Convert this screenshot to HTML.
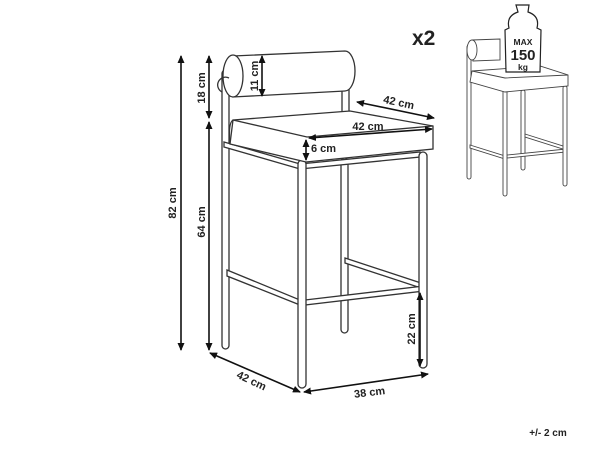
<!DOCTYPE html>
<html><head><style>
html,body{margin:0;padding:0;background:#fff;}
svg{display:block;}
text{font-family:"Liberation Sans",sans-serif;font-weight:bold;fill:#222;}
</style></head><body>
<svg width="600" height="450" viewBox="0 0 600 450" xmlns="http://www.w3.org/2000/svg">
<defs>
<marker id="a" markerWidth="8" markerHeight="8" refX="7" refY="4" orient="auto-start-reverse" markerUnits="userSpaceOnUse">
<path d="M0,0.5 L8,4 L0,7.5 z" fill="#111"/></marker>
</defs>
<g fill="#fff" stroke="#333" stroke-width="1.3">
<rect x="222" y="70" width="7" height="279" rx="3.5"/>
<rect x="342" y="88" width="7" height="26"/>
<rect x="341" y="158" width="7" height="175" rx="3.5"/>
<path d="M233,56 L345,51 A10,20 0 0 1 345,91 L233,97 Z"/>
<ellipse cx="233" cy="76" rx="10" ry="21"/>
<path d="M222,92 A5,5 0 0 1 229,78" fill="none"/>
<path d="M345,258 L424,284 L424,289 L345,263 Z"/>
<path d="M227,270 L300,300 L300,305 L227,276 Z"/>
<path d="M305,300 L424,286 L424,291 L305,305 Z"/>
<path d="M224,142 L300,164 L420,152 L420,157 L300,169 L224,147 Z"/>
<rect x="298" y="160" width="8" height="228" rx="4"/>
<rect x="419" y="152" width="8" height="216" rx="4"/>
<path d="M233,120 L350,111 L433,126 L433,149 L306,162 L230,144 Z"/>
<path d="M233,120 L307,137 L433,126" fill="none"/>
<path d="M233,120 Q228,123 230,144" fill="none"/>
</g>
<g stroke="#111" stroke-width="1.6" fill="none">
<line x1="181" y1="56" x2="181" y2="350" marker-start="url(#a)" marker-end="url(#a)"/>
<line x1="209" y1="56" x2="209" y2="118" marker-start="url(#a)" marker-end="url(#a)"/>
<line x1="209" y1="122" x2="209" y2="350" marker-start="url(#a)" marker-end="url(#a)"/>
<line x1="262" y1="56" x2="262" y2="96" marker-start="url(#a)" marker-end="url(#a)"/>
<line x1="357" y1="102" x2="434" y2="118" marker-start="url(#a)" marker-end="url(#a)"/>
<line x1="309" y1="138" x2="432" y2="129" marker-start="url(#a)" marker-end="url(#a)"/>
<line x1="306" y1="140" x2="306" y2="160" marker-start="url(#a)" marker-end="url(#a)"/>
<line x1="420" y1="293" x2="420" y2="366" marker-start="url(#a)" marker-end="url(#a)"/>
<line x1="210" y1="353" x2="300" y2="392" marker-start="url(#a)" marker-end="url(#a)"/>
<line x1="304" y1="392" x2="428" y2="374" marker-start="url(#a)" marker-end="url(#a)"/>
</g>
<g font-size="11">
<text transform="translate(176,203) rotate(-90)" text-anchor="middle">82 cm</text>
<text transform="translate(205,88) rotate(-90)" text-anchor="middle">18 cm</text>
<text transform="translate(205,222) rotate(-90)" text-anchor="middle">64 cm</text>
<text transform="translate(258,76) rotate(-90)" text-anchor="middle">11 cm</text>
<text transform="translate(398,106) rotate(12)" text-anchor="middle">42 cm</text>
<text x="368" y="130" text-anchor="middle">42 cm</text>
<text x="311" y="152">6 cm</text>
<text transform="translate(415,329) rotate(-90)" text-anchor="middle">22 cm</text>
<text transform="translate(250,384) rotate(25)" text-anchor="middle">42 cm</text>
<text transform="translate(370,396) rotate(-7)" text-anchor="middle">38 cm</text>
<text x="548" y="436" text-anchor="middle" font-size="10">+/- 2 cm</text>
</g>
<text x="412" y="45" font-size="21">x2</text>
<g fill="#fff" stroke="#444" stroke-width="0.9">
<rect x="467" y="45" width="4" height="134" rx="2"/>
<rect x="521" y="90" width="4" height="80" rx="2"/>
<path d="M472,40 L500,39 L500,60 L473,61 Z"/>
<ellipse cx="472" cy="50" rx="5" ry="10"/>
<path d="M525,134 L566,147 L566,150 L525,137 Z"/>
<path d="M470,145 L505,156 L505,159 L470,148 Z"/>
<path d="M507,155 L566,149 L566,152 L507,158 Z"/>
<rect x="503" y="88" width="4" height="108" rx="2"/>
<rect x="563" y="86" width="4" height="100" rx="2"/>
<path d="M472,71 L540,66 L568,75 L568,86 L505,92 L470,82 Z"/>
<path d="M472,71 L505,78 L568,75" fill="none"/>
<path d="M516,5 L529,5 L528,12 Q540,16 537,28 L541,30 L540,72 L506,72 L505,30 L509,28 Q506,16 518,12 Z" fill="#fff" stroke="#222" stroke-width="1.2"/>
</g>
<text x="523" y="45" font-size="8.5" text-anchor="middle">MAX</text>
<text x="523" y="60" font-size="15" text-anchor="middle">150</text>
<text x="523" y="70" font-size="8.5" text-anchor="middle">kg</text>
</svg>
</body></html>
